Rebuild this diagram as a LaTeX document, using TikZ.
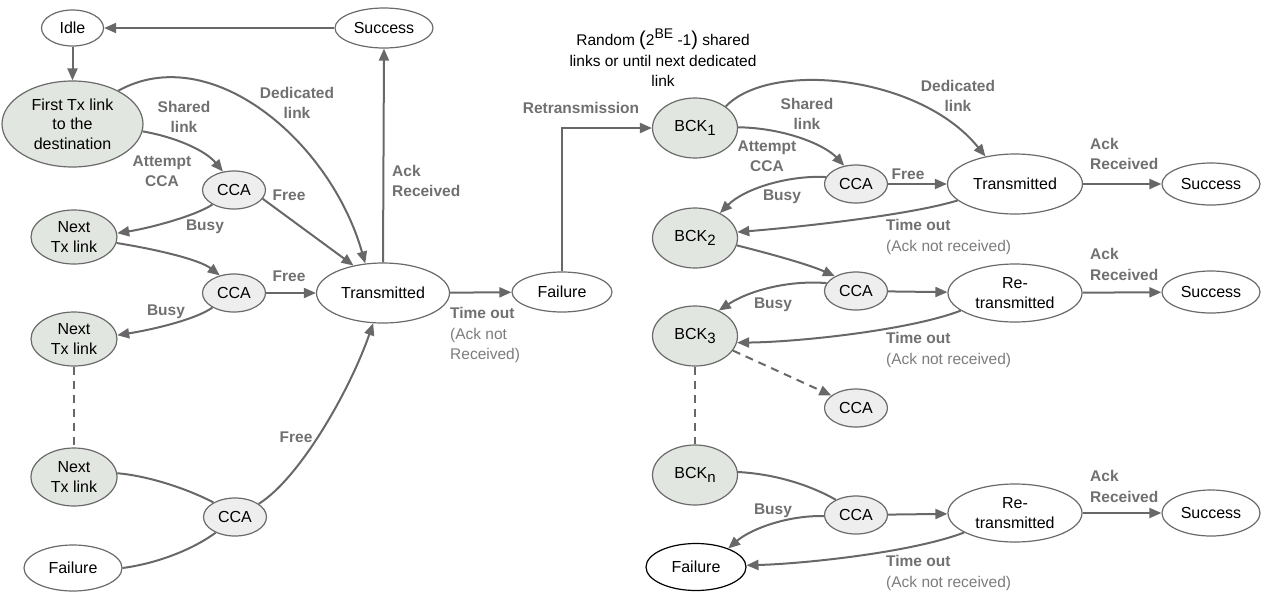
\documentclass[tikz,border=0pt]{standalone}
\usepackage{fontspec}
\setmainfont{Liberation Sans}
\usetikzlibrary{shapes.geometric,arrows.meta}
\definecolor{edge}{HTML}{686868}
\definecolor{ndraw}{HTML}{6A6A6A}
\definecolor{gfill}{HTML}{E2E6E0}
\definecolor{cfill}{HTML}{EEEEEE}
\definecolor{lab}{HTML}{707070}
\definecolor{labtwo}{HTML}{7C7C7C}
\newcommand{\bsub}[1]{\raisebox{-4.5pt}{\fontsize{15}{15}\selectfont #1}}
\begin{document}
\begin{tikzpicture}[x=1pt,y=-1pt,
  st/.style={ellipse,draw=ndraw,line width=1.2pt,inner sep=0pt,align=center,font=\fontsize{16}{19.5}\selectfont},
  gst/.style={st,fill=gfill},
  cst/.style={st,fill=cfill,minimum width=63pt,minimum height=38pt},
  wst/.style={st,fill=white},
  arr/.style={draw=edge,line width=2pt,-{Triangle[length=12pt,width=10pt]}},
  ln/.style={draw=edge,line width=2pt},
  dsh/.style={draw=edge,line width=2pt,dash pattern=on 8pt off 6pt},
  lbl/.style={text=lab,font=\fontsize{15.5}{20.5}\selectfont\bfseries,align=center,inner sep=0pt},
  lbll/.style={text=labtwo,font=\fontsize{15.5}{20.5}\selectfont,align=left,inner sep=0pt,anchor=west},
  lblw/.style={lbl,align=left,anchor=west},
]
\useasboundingbox (0,0) rectangle (1267,595);

% ---------- left part ----------
\node[wst,minimum width=62pt,minimum height=36pt] (idle) at (72.5,28) {Idle};
\node[wst,minimum width=98pt,minimum height=40pt] (sucL) at (384,28) {Success};
\node[gst,minimum width=141pt,minimum height=86pt] (ftx) at (72.5,124) {First Tx link\\to the\\destination};
\node[cst] (cca1) at (234,190) {CCA};
\node[gst,minimum width=86pt,minimum height=54pt] (nx1) at (74,237) {Next\\Tx link};
\node[cst] (cca2) at (234,293) {CCA};
\node[wst,minimum width=133pt,minimum height=60pt] (trL) at (383,293) {Transmitted};
\node[wst,minimum width=100pt,minimum height=40pt] (failM) at (562,292) {Failure};
\node[gst,minimum width=86pt,minimum height=54pt] (nx2) at (74,339) {Next\\Tx link};
\node[gst,minimum width=86pt,minimum height=58pt] (nx3) at (74,477) {Next\\Tx link};
\node[cst] (cca3) at (235,517) {CCA};
\node[wst,minimum width=98pt,minimum height=46pt] (failL) at (73,568) {Failure};

% ---------- right part nodes ----------
\node[gst,minimum width=85pt,minimum height=60pt] (bck1) at (695,128) {BCK\bsub{1}};
\node[cst] (ccar1) at (856,184) {CCA};
\node[gst,minimum width=85pt,minimum height=60pt] (bck2) at (695,238) {BCK\bsub{2}};
\node[wst,minimum width=135pt,minimum height=60pt] (trR) at (1015,184) {Transmitted};
\node[wst,minimum width=98pt,minimum height=42pt] (sucR1) at (1211,184) {Success};
\node[cst] (ccar2) at (856,291) {CCA};
\node[wst,minimum width=134pt,minimum height=58pt] (retr2) at (1015,293) {Re-\\transmitted};
\node[wst,minimum width=98pt,minimum height=42pt] (sucR2) at (1211,292) {Success};
\node[gst,minimum width=85pt,minimum height=60pt] (bck3) at (695,336) {BCK\bsub{3}};
\node[cst] (ccar3) at (856,408) {CCA};
\node[gst,minimum width=85pt,minimum height=60pt] (bckn) at (695,475) {BCK\bsub{n}};
\node[cst] (ccar4) at (856,515) {CCA};
\node[wst,minimum width=134pt,minimum height=58pt] (retr4) at (1015,513) {Re-\\transmitted};
\node[wst,minimum width=98pt,minimum height=46pt] (sucR4) at (1211,513) {Success};
\node[wst,draw=black,minimum width=100pt,minimum height=47pt] (failR) at (696,567) {Failure};

% ---------- left edges ----------
\draw[arr] (sucL) -- (idle);
\draw[arr] (idle) -- (ftx);
\draw[arr] (ftx.36) .. controls (210,40) and (330,140) .. (trL.121);
\draw[arr] (ftx.-6) .. controls (175,137) and (205,150) .. (cca1.121);
\draw[arr] (cca1.214) .. controls (195,216) and (150,228) .. (nx1.5);
\draw[arr] (cca1.-17) -- (trL.137);
\draw[arr] (nx1.-8) .. controls (160,250) and (200,260) .. (cca2.129);
\draw[arr] (cca2) -- (trL);
\draw[arr] (cca2.214) .. controls (195,320) and (150,330) .. (nx2.5);
\draw[dsh] (nx2.south) -- (nx3.north);
\draw[ln] (nx3.5) .. controls (150,476) and (190,490) .. (cca3.146);
\draw[ln] (failL.0) .. controls (160,563) and (195,548) .. (cca3.219);
\draw[arr] (cca3.29) .. controls (300,478) and (350,390) .. (trL.252);
\draw[arr] (trL.north) -- (sucL.south);
\draw[arr] (trL) -- (failM);
\draw[arr] (failM.north) |- (bck1.west);

\node[lbl] at (297,103) {Dedicated\\link};
\node[lbl] at (184,117) {Shared\\link};
\node[lbl] at (162,171) {Attempt\\CCA};
\node[lbl] at (289,195) {Free};
\node[lbl] at (205,227) {Busy};
\node[lbl] at (289,276) {Free};
\node[lbl] at (166,312) {Busy};
\node[lbl] at (296,437) {Free};
\node[lblw] at (392,181) {Ack\\Received};
\node[lbll] at (450,335) {\textbf{\textcolor{lab}{Time out}}\\(Ack not\\Received)};
\node[lbl] at (581,108) {Retransmission};
\node[align=center,inner sep=0pt,font=\fontsize{15.5}{20.5}\selectfont] (rnd) at (663,58)
  {Random {\fontsize{20}{20}\selectfont(}2\raisebox{7pt}{\fontsize{14}{14}\selectfont BE} -1{\fontsize{20}{20}\selectfont)} shared\\links or until next dedicated\\link};

% ---------- right edges ----------
\draw[arr] (bck1.35) .. controls (770,60) and (920,75) .. (trR.137);
\draw[arr] (bck1.1) .. controls (785,128) and (825,145) .. (ccar1.123);
\draw[arr] (ccar1.167) .. controls (790,175) and (745,188) .. (bck2.45);
\draw[arr] (ccar1) -- (trR);
\draw[arr] (trR.196) .. controls (910,215) and (800,227) .. (bck2.8);
\draw[arr] (trR) -- (sucR1);
\draw[arr] (bck2.-10) .. controls (775,255) and (810,265) .. (ccar2.145);
\draw[arr] (ccar2.165) .. controls (790,280) and (750,290) .. (bck3.47);
\draw[arr] (ccar2) -- (retr2);
\draw[arr] (retr2.198) .. controls (910,330) and (800,342) .. (bck3.-9);
\draw[arr] (retr2) -- (sucR2);
\draw[dsh,-{Triangle[length=12pt,width=10pt]}] (bck3.-21) -- (ccar3.153);
\draw[dsh] (bck3.south) -- (bckn.north);
\draw[ln] (bckn.4) .. controls (775,474) and (810,485) .. (ccar4.143);
\draw[arr] (ccar4.182) .. controls (790,515) and (752,528) .. (failR.30);
\draw[arr] (ccar4) -- (retr4);
\draw[arr] (retr4.201) .. controls (910,553) and (800,564) .. (failR.2);
\draw[arr] (retr4) -- (sucR4);

\node[lbl] at (958,96) {Dedicated\\link};
\node[lbl] at (807,114) {Shared\\link};
\node[lbl] at (767,156) {Attempt\\CCA};
\node[lbl] at (908,174) {Free};
\node[lbl] at (782,197) {Busy};
\node[lbll] at (886,237) {\textbf{\textcolor{lab}{Time out}}\\(Ack not received)};
\node[lblw] at (1090,154) {Ack\\Received};
\node[lbl] at (773,305) {Busy};
\node[lblw] at (1090,264.5) {Ack\\Received};
\node[lbll] at (886,350) {\textbf{\textcolor{lab}{Time out}}\\(Ack not received)};
\node[lbl] at (773,511) {Busy};
\node[lblw] at (1090,486.5) {Ack\\Received};
\node[lbll] at (886,573) {\textbf{\textcolor{lab}{Time out}}\\(Ack not received)};
\end{tikzpicture}
\end{document}
